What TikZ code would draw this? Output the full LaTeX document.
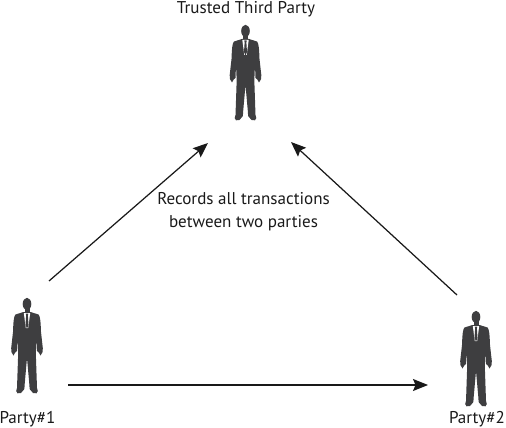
\documentclass[tikz,border=0pt]{standalone}
\usepackage{fontspec}
\setmainfont{PT Sans}
\usetikzlibrary{positioning, arrows.meta}
\definecolor{suitgray}{HTML}{3E3E40}

\tikzset{
    link/.style={-{Stealth[length=0.3cm, width=0.24cm, inset=0.05cm]}, line width=0.7pt, black!90},
    caption/.style={font=\fontsize{9.7}{13}\selectfont, align=center, text=black!90, inner sep=0},
    person/.pic={
        % Голова и шея
        \fill[suitgray] (0, 6) ellipse (4.3 and 6.2);
        \fill[suitgray] (-2.5, 8) rectangle (2.5, 16);
        % Костюм и ноги
        \fill[suitgray] (-3.5, 14) -- (-11.5, 16.5) .. controls (-13, 18) and (-13.6, 22) .. (-14, 34)
            -- (-15.8, 50) -- (-15.6, 54) -- (-13.5, 57.5) -- (-11.8, 54.5) -- (-10, 53) -- (-9.5, 40)
            -- (-8.8, 55) -- (-10, 90) -- (-10.8, 93) -- (-9.5, 95.3) -- (-6, 95) -- (-2.6, 91)
            -- (-2.4, 87) -- (0, 60) -- (2.4, 87) -- (2.6, 91) -- (6, 95) -- (9.5, 95.3) -- (10.8, 93)
            -- (10, 90) -- (8.8, 55) -- (9.5, 40) -- (10, 53) -- (11.8, 54.5) -- (13.5, 57.5) -- (15.6, 54)
            -- (15.8, 50) -- (14, 34) .. controls (13.6, 22) and (13, 18) .. (11.5, 16.5) -- (3.5, 14) -- cycle;
        % Рубашка и галстук
        \fill[white] (-3.2, 15) -- (3.2, 15) -- (1.2, 30) -- (-1.2, 30) -- cycle;
        \fill[suitgray] (-1.1, 15.5) -- (1.1, 15.5) -- (0.9, 18) -- (1.5, 27) -- (0, 30.5) -- (-1.5, 27) -- (-0.9, 18) -- cycle;
    }
}

\begin{document}
\begin{tikzpicture}[x=0.02cm, y=-0.02cm]
        \useasboundingbox (0, 0) rectangle (506, 428);

        % Участники
        \pic at (245.5, 25) {person};
        \pic at (27, 298) {person};
        \pic at (476, 311) {person};

        % Подписи
        \node[caption] (trusted) at (246, 9) {Trusted Third Party};
        \node[caption] (partyone) at (27.5, 419) {Party\#1};
        \node[caption] (partytwo) at (477, 419) {Party\#2};
        \node[caption] (records) at (243.5, 212) {Records all transactions\\between two parties};

        % Концы стрелок
        \coordinate (onestart) at (49, 281);
        \coordinate (oneend) at (208, 143);
        \coordinate (twostart) at (457, 295);
        \coordinate (twoend) at (291, 142);
        \coordinate (basestart) at (68, 385);
        \coordinate (baseend) at (428, 385);

        % Стрелки
        \draw[link] (onestart) -- (oneend);
        \draw[link] (twostart) -- (twoend);
        \draw[link] (basestart) -- (baseend);
    \end{tikzpicture}
\end{document}
